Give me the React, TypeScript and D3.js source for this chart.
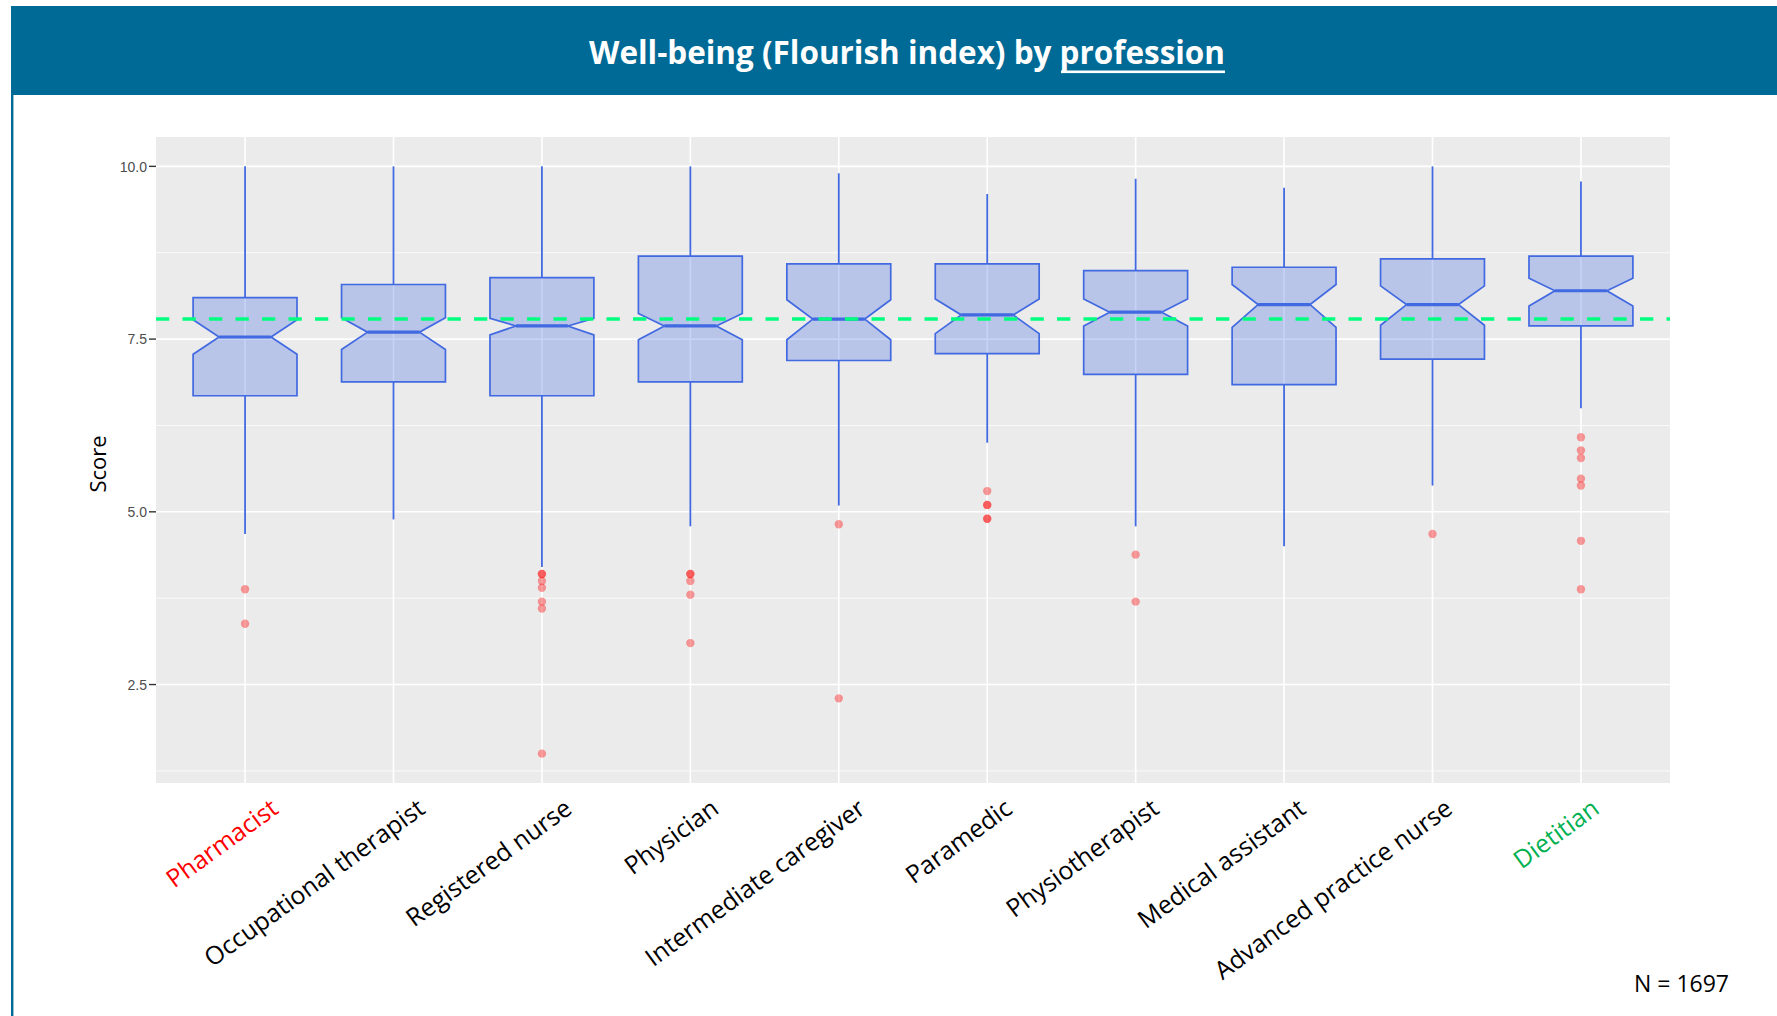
import React from "react";
import * as d3 from "d3";

const professions = [
  "Pharmacist",
  "Occupational therapist",
  "Registered nurse",
  "Physician",
  "Intermediate caregiver",
  "Paramedic",
  "Physiotherapist",
  "Medical assistant",
  "Advanced practice nurse",
  "Dietitian",
];

const whiskerHigh = [10.0, 10.0, 10.0, 10.0, 9.9, 9.6, 9.82, 9.69, 10.0, 9.78];
const q3 = [8.1, 8.29, 8.39, 8.7, 8.59, 8.59, 8.49, 8.54, 8.66, 8.7];
const notchHigh = [7.78, 7.81, 7.8, 7.87, 8.07, 8.08, 8.08, 8.29, 8.27, 8.38];
const medians = [7.53, 7.6, 7.69, 7.69, 7.79, 7.85, 7.89, 8.0, 8.0, 8.2];
const notchLow = [7.28, 7.35, 7.56, 7.49, 7.49, 7.58, 7.69, 7.67, 7.7, 7.98];
const q1 = [6.68, 6.88, 6.68, 6.88, 7.19, 7.29, 6.99, 6.84, 7.21, 7.69];
const whiskerLow = [4.68, 4.89, 4.2, 4.79, 5.09, 6.0, 4.79, 4.5, 5.38, 6.5];
const outliers = [
  [3.88, 3.38],
  [],
  [4.1, 4.1, 4.0, 3.9, 3.7, 3.6, 1.5],
  [4.1, 4.1, 4.0, 3.8, 3.1],
  [4.82, 2.3],
  [5.3, 5.1, 5.1, 4.9, 4.9],
  [4.38, 3.7],
  [],
  [4.68],
  [6.08, 5.89, 5.78, 5.48, 5.38, 4.58, 3.88],
];
const overallMedian = 7.79;
const yMajorTicks = [2.5, 5.0, 7.5, 10.0];
const yMinorTicks = [1.25, 3.75, 6.25, 8.75];
const highlightColors: Record<string, string> = {
  Pharmacist: "#FF0000",
  Dietitian: "#00B050",
};
const sampleSize = 1697;

const W = 1777;
const H = 1016;
const panel = { left: 156, right: 1670, top: 137, bottom: 783 };

export default function App() {
  const allVals = [...whiskerHigh, ...whiskerLow, ...outliers.flat()];
  const lo = d3.min(allVals) as number;
  const hi = d3.max(allVals) as number;
  const pad = (hi - lo) * 0.05;
  const y = d3.scaleLinear().domain([lo - pad, hi + pad]).range([panel.bottom, panel.top]);
  const x = d3.scalePoint<string>().domain(professions).range([panel.left, panel.right]).padding(0.6);
  const labelX = d3.scalePoint<string>().domain(professions).range([280, 1601]);
  const step = x.step();
  const boxW = step * 0.7;
  const inset = boxW * 0.25;
  const blue = "#4169E1";

  return (
    <div style={{ position: "fixed", left: 0, top: 0 }}>
      <svg width={W} height={H} style={{ display: "block", background: "#fff" }}>
        {/* header */}
        <rect x={11} y={6} width={W - 11} height={89} fill="#006A96" />
        <rect x={11} y={95} width={2.4} height={H - 95} fill="#006A96" />
        <text
          x={589}
          y={64}
          fontFamily="'Open Sans', sans-serif"
          fontWeight={700}
          fontSize={33}
          fill="#fff"
          textLength={636}
          lengthAdjust="spacingAndGlyphs"
        >
          Well-being (Flourish index) by profession
        </text>
        <rect x={1061} y={70.5} width={164} height={2.6} fill="#fff" />

        {/* panel */}
        <rect x={panel.left} y={panel.top} width={panel.right - panel.left} height={panel.bottom - panel.top} fill="#EBEBEB" />
        {yMinorTicks.map((t) => (
          <line key={"mi" + t} x1={panel.left} x2={panel.right} y1={y(t)} y2={y(t)} stroke="#fff" strokeWidth={0.8} />
        ))}
        {yMajorTicks.map((t) => (
          <line key={"ma" + t} x1={panel.left} x2={panel.right} y1={y(t)} y2={y(t)} stroke="#fff" strokeWidth={1.6} />
        ))}
        {professions.map((p) => (
          <line key={"vg" + p} x1={x(p)} x2={x(p)} y1={panel.top} y2={panel.bottom} stroke="#fff" strokeWidth={1.6} />
        ))}

        {/* y axis */}
        {yMajorTicks.map((t) => (
          <g key={"yt" + t}>
            <line x1={panel.left - 7} x2={panel.left} y1={y(t)} y2={y(t)} stroke="#333" strokeWidth={1.4} />
            <text
              x={panel.left - 9}
              y={y(t)}
              dy="0.38em"
              textAnchor="end"
              fontFamily="'Liberation Sans', Arial, sans-serif"
              fontSize={14}
              fill="#4D4D4D"
            >
              {t.toFixed(1)}
            </text>
          </g>
        ))}
        <text
          transform={`translate(106, ${(panel.top + panel.bottom) / 2 + 4}) rotate(-90)`}
          textAnchor="middle"
          fontFamily="'Open Sans', sans-serif"
          fontSize={22}
          fill="#000"
        >
          Score
        </text>

        {/* boxes */}
        {professions.map((p, i) => {
          const cx = x(p) as number;
          const l = cx - boxW / 2;
          const r = cx + boxW / 2;
          const pts: [number, number][] = [
            [l, y(q3[i])],
            [r, y(q3[i])],
            [r, y(notchHigh[i])],
            [r - inset, y(medians[i])],
            [r, y(notchLow[i])],
            [r, y(q1[i])],
            [l, y(q1[i])],
            [l, y(notchLow[i])],
            [l + inset, y(medians[i])],
            [l, y(notchHigh[i])],
          ];
          const path = d3.line()(pts) + "Z";
          return (
            <g key={"b" + p}>
              <line x1={cx} x2={cx} y1={y(whiskerHigh[i])} y2={y(q3[i])} stroke={blue} strokeWidth={1.8} />
              <line x1={cx} x2={cx} y1={y(q1[i])} y2={y(whiskerLow[i])} stroke={blue} strokeWidth={1.8} />
              <path d={path} fill={blue} fillOpacity={0.3} stroke={blue} strokeWidth={1.7} strokeLinejoin="miter" />
              <line
                x1={l + inset}
                x2={r - inset}
                y1={y(medians[i])}
                y2={y(medians[i])}
                stroke={blue}
                strokeWidth={3.2}
              />
              {outliers[i].map((v, k) => (
                <circle key={k} cx={cx} cy={y(v)} r={4.2} fill="#FF0000" fillOpacity={0.38} />
              ))}
            </g>
          );
        })}

        {/* reference line */}
        <line
          x1={panel.left}
          x2={panel.right}
          y1={y(overallMedian)}
          y2={y(overallMedian)}
          stroke="#00FF7F"
          strokeWidth={3.4}
          strokeDasharray="13.3,13.2"
        />

        {/* x labels */}
        {professions.map((p) => (
          <text
            key={"xl" + p}
            transform={`translate(${labelX(p)}, 812) rotate(-36)`}
            textAnchor="end"
            fontFamily="'Open Sans', sans-serif"
            fontSize={25}
            fill={highlightColors[p] || "#000"}
          >
            {p}
          </text>
        ))}

        <text x={1634} y={992} fontFamily="'Open Sans', sans-serif" fontSize={23} fill="#000">
          {`N = ${sampleSize}`}
        </text>
      </svg>
    </div>
  );
}
